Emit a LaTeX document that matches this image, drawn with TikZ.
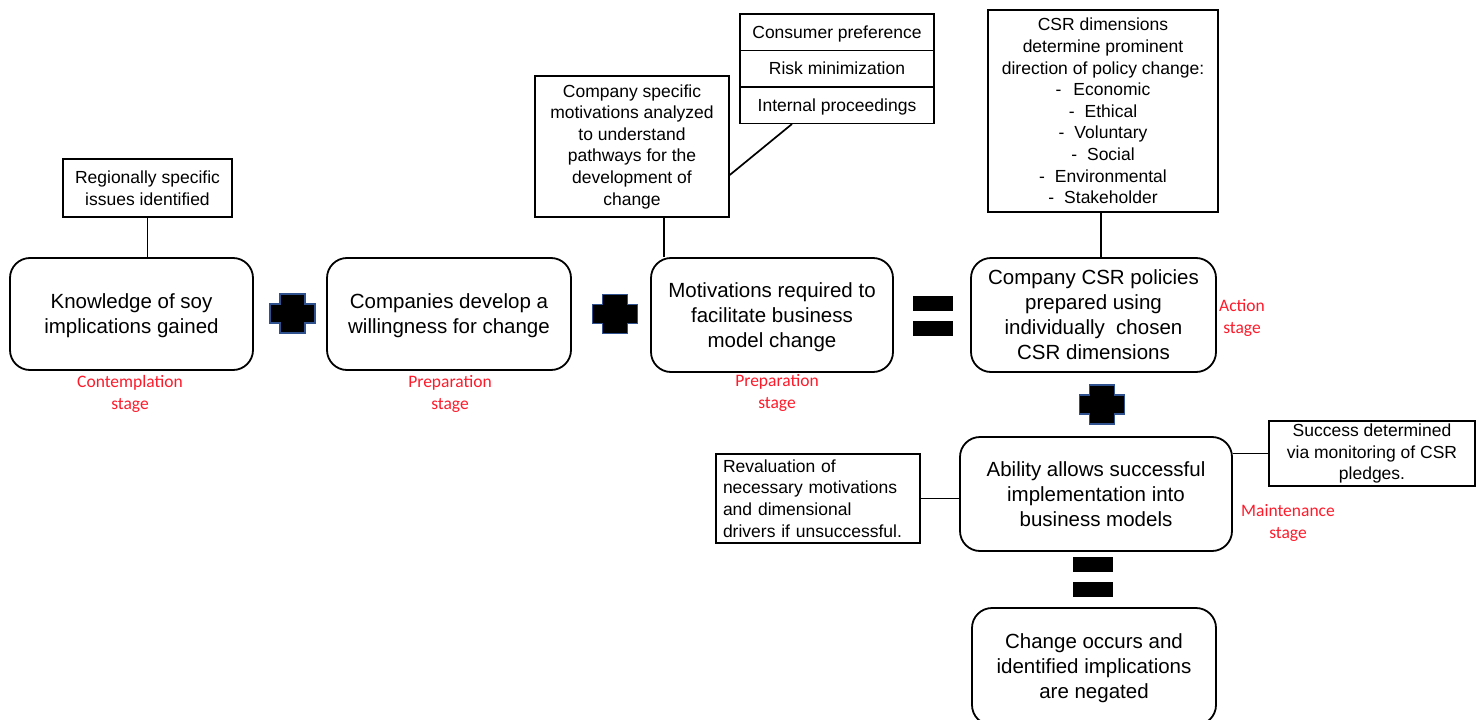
\documentclass[tikz,border=0pt]{standalone}
\usepackage{fontspec}
\setmainfont{Liberation Sans}
\newfontfamily\stagefont{Carlito}
\usetikzlibrary{calc}
\definecolor{plusedge}{HTML}{2F528F}
\definecolor{stagered}{HTML}{FF1A2A}
\begin{document}
\begin{tikzpicture}[x=1pt,y=-1pt,
  mainbox/.style={draw=black,line width=1.8pt,rounded corners=20pt,align=center,
    inner sep=0pt,text depth=0pt,font=\fontsize{20.5}{25}\selectfont},
  notebox/.style={draw=black,line width=1.5pt,align=center,inner sep=0pt,
    font=\fontsize{17.5}{21.6}\selectfont},
  cellbox/.style={notebox,minimum width=194pt,minimum height=36.5pt,text depth=0pt},
  stagelabel/.style={text=stagered,align=center,inner sep=0pt,
    font=\stagefont\fontsize{17.5}{22}\selectfont},
  link/.style={draw=black,line width=1.7pt},
  opplus/.pic={
    \filldraw[fill=black,draw=plusedge,line width=1.2pt]
      (-12.5,-19.5) -- (12.5,-19.5) -- (12.5,-9.5) -- (22.5,-9.5) -- (22.5,9.5)
      -- (12.5,9.5) -- (12.5,19.5) -- (-12.5,19.5) -- (-12.5,9.5) -- (-22.5,9.5)
      -- (-22.5,-9.5) -- (-12.5,-9.5) -- cycle;},
  opequal/.pic={
    \fill[black] (-20,-20) rectangle (20,-5);
    \fill[black] (-20,5) rectangle (20,20);}
]
\useasboundingbox (0,0) rectangle (1484,720);
\clip (0,0) rectangle (1484,720);

% main process boxes
\node[mainbox,minimum width=243pt,minimum height=112pt] (know) at (131.5,314)
  {Knowledge of soy\\implications gained};
\node[mainbox,minimum width=244pt,minimum height=112pt] (will) at (449,314)
  {Companies develop a\\willingness for change};
\node[mainbox,minimum width=242pt,minimum height=114pt] (mot) at (772,315)
  {Motivations required to\\facilitate business\\model change};
\node[mainbox,minimum width=245pt,minimum height=114pt] (csr) at (1093.5,315)
  {Company CSR policies\\prepared using\\individually~ chosen\\CSR dimensions};
\node[mainbox,minimum width=272pt,minimum height=114pt] (abil) at (1096,494)
  {Ability allows successful\\implementation into\\business models};
\node[mainbox,minimum width=244pt,minimum height=117pt] (chg) at (1094,666.5)
  {Change occurs and\\identified implications\\are negated};

% annotation boxes
\node[notebox,minimum width=169pt,minimum height=58pt] (reg) at (147.5,188)
  {Regionally specific\\issues identified};
\node[notebox,minimum width=194pt,minimum height=141pt] (cs) at (632,146.5)
  {Company specific\\motivations analyzed\\to understand\\pathways for the\\development of\\change};
\node[cellbox] (tblA) at (837,32) {Consumer preference};
\node[cellbox] (tblB) at (837,68.5) {Risk minimization};
\node[cellbox] (tblC) at (837,105) {Internal proceedings};
\node[notebox,minimum width=230pt,minimum height=202pt] (dims) at (1103,111)
  {CSR dimensions\\determine prominent\\direction of policy change:\\
   -\hspace{12pt}Economic\\-\hspace{10pt}Ethical\\-\hspace{10pt}Voluntary\\
   -\hspace{10pt}Social\\-\hspace{10pt}Environmental\\-\hspace{10pt}Stakeholder};
\node[notebox,align=left,text width=190pt,inner xsep=7pt,minimum height=89pt] (rev) at (818,498.5)
  {Revaluation of\\necessary motivations\\and dimensional\\drivers if unsuccessful.};
\node[notebox,minimum width=206pt,minimum height=65pt] (suc) at (1372,453.5)
  {Success determined\\via monitoring of CSR\\pledges.};

% connectors
\draw[link] (reg.south) -- (reg.south |- know.north);
\draw[link] ([xshift=32pt]cs.south) -- ([xshift=32pt]cs.south |- mot.north);
\draw[link] ($(cs.east)+(0,28.5)$) -- ($(tblC.south)+(-45,0)$);
\draw[link] ([xshift=-2pt]dims.south) -- ([xshift=-2pt]dims.south |- csr.north);
\draw[link] (rev.east) -- (rev.east -| abil.west);
\draw[link] (suc.west) -- (suc.west -| abil.east);

% operators
\pic at (292.5,313.5) {opplus};
\pic at (615,314) {opplus};
\pic at (1102,404.5) {opplus};
\pic at (933,316) {opequal};
\pic at (1093,577) {opequal};

% stage labels
\node[stagelabel] (stA) at (130,394) {Contemplation\\stage};
\node[stagelabel] (stB) at (450,394) {Preparation\\stage};
\node[stagelabel] (stC) at (777,393) {Preparation\\stage};
\node[stagelabel] (stD) at (1242,317.5) {Action\\stage};
\node[stagelabel] (stE) at (1288,522.5) {Maintenance\\stage};
\end{tikzpicture}
\end{document}
